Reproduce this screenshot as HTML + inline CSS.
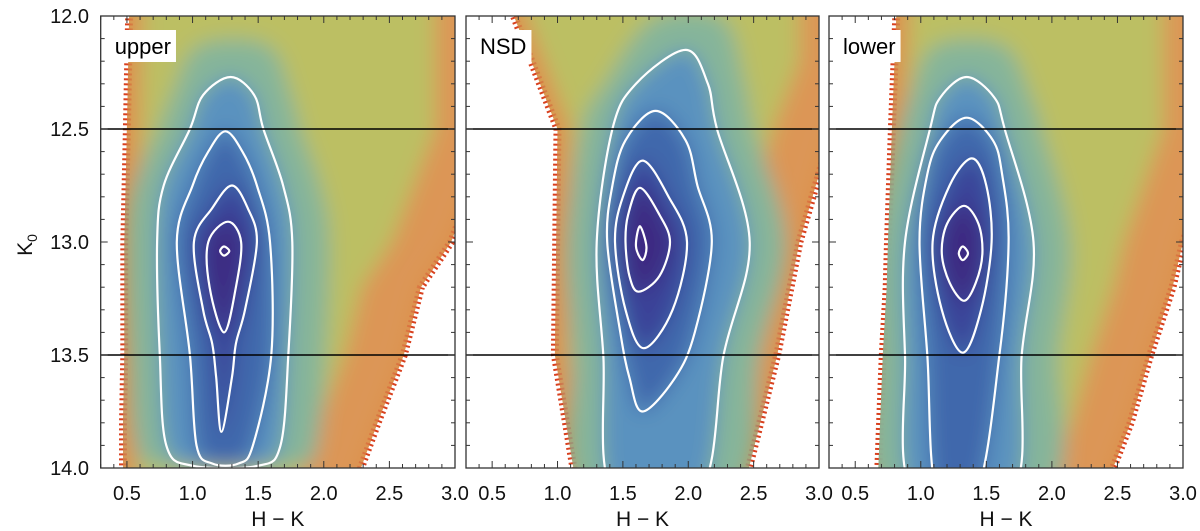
<!DOCTYPE html>
<html><head><meta charset="utf-8">
<style>
body{margin:0;background:#fff;}
svg{display:block;font-family:"Liberation Sans",sans-serif;}
</style></head>
<body>
<svg id="chart" width="1200" height="531" viewBox="0 0 1200 531" xmlns="http://www.w3.org/2000/svg">
<defs>
<filter id="blur" x="-20%" y="-20%" width="140%" height="140%"><feGaussianBlur stdDeviation="10"/></filter>
</defs>
</svg>
<script>
// ---- data ----
const panelNames = ["upper","NSD","lower"];
const xTicks = [0.5,1.0,1.5,2.0,2.5,3.0];
const yTicks = [12.0,12.5,13.0,13.5,14.0];
const refLines = [12.5,13.5];
// data envelope rows: [K, leftHK, rightHK]
const envUpper = [[11.9,0.52,3.3],[12.5,0.5,3.3],[13.0,0.48,2.97],[13.2,0.48,2.74],[13.5,0.48,2.61],[13.8,0.47,2.41],[14.1,0.47,2.22]];
const envNSD   = [[11.9,0.6,3.3],[12.2,0.8,3.3],[12.5,1.0,3.1],[13.0,0.99,2.85],[13.5,0.98,2.68],[14.1,1.15,2.42]];
const envLower = [[11.9,0.82,3.3],[12.5,0.78,3.3],[13.0,0.75,3.0],[13.2,0.74,2.92],[13.5,0.71,2.75],[13.8,0.69,2.6],[14.1,0.67,2.4]];
// contours (outer to inner)
const conUpper = [
 [[12.27,1.29,1.29],[12.35,1.08,1.47],[12.5,0.98,1.54],[12.75,0.78,1.69],[13.0,0.73,1.76],[13.5,0.75,1.73],[13.9,0.8,1.67],[13.99,1.0,1.5]],
 [[12.51,1.25,1.25],[12.6,1.12,1.38],[12.75,1.0,1.49],[13.0,0.88,1.59],[13.5,0.98,1.6],[13.9,1.03,1.46],[13.98,1.15,1.35]],
 [[12.75,1.3,1.3],[12.85,1.15,1.42],[13.0,1.01,1.49],[13.3,1.08,1.4],[13.45,1.15,1.33],[13.6,1.18,1.3],[13.84,1.22,1.22]],
 [[12.91,1.27,1.27],[13.0,1.12,1.37],[13.2,1.13,1.33],[13.4,1.24,1.24]],
 [[13.02,1.24,1.24],[13.04,1.21,1.28],[13.06,1.24,1.24]]
];
const conNSD = [
 [[12.15,1.98,1.98],[12.3,1.6,2.15],[12.5,1.42,2.22],[13.0,1.3,2.47],[13.5,1.35,2.27],[14.1,1.42,2.09]],
 [[12.42,1.75,1.75],[12.55,1.52,1.98],[12.75,1.42,2.07],[13.0,1.38,2.18],[13.4,1.48,2.05],[13.6,1.55,1.9],[13.75,1.65,1.65]],
 [[12.64,1.65,1.65],[12.8,1.5,1.85],[13.0,1.44,1.99],[13.3,1.52,1.88],[13.47,1.66,1.66]],
 [[12.76,1.63,1.63],[12.88,1.54,1.78],[13.0,1.52,1.86],[13.15,1.55,1.78],[13.22,1.62,1.62]],
 [[12.93,1.63,1.63],[13.02,1.6,1.68],[13.08,1.65,1.65]]
];
const conLower = [
 [[12.27,1.35,1.35],[12.36,1.15,1.56],[12.5,1.07,1.64],[13.0,0.88,1.86],[13.5,0.88,1.77],[14.1,0.94,1.7]],
 [[12.45,1.35,1.35],[12.55,1.15,1.55],[12.7,1.05,1.62],[13.0,0.99,1.67],[13.5,1.05,1.6],[14.1,1.12,1.43]],
 [[12.63,1.39,1.39],[12.75,1.22,1.5],[13.0,1.09,1.54],[13.3,1.16,1.46],[13.49,1.32,1.32]],
 [[12.84,1.33,1.33],[12.92,1.2,1.44],[13.05,1.16,1.47],[13.18,1.22,1.42],[13.26,1.33,1.33]],
 [[13.02,1.32,1.32],[13.05,1.29,1.36],[13.08,1.32,1.32]]
];
const envelopes = [envUpper, envNSD, envLower];
const contours = [conUpper, conNSD, conLower];

// ---- layout ----
const panels = [{x0:100.7,x1:455},{x0:466,x1:819},{x0:829,x1:1183}];
const yTop = 16, yBot = 468, xMin = 0.3, xMax = 3.0, kMin = 12.0, kMax = 14.0;
const fills = ["#dc9656","#bcbf64","#86b59a","#5a92bf","#4068ac","#3a4398","#3e2a82"];
const NS = "http://www.w3.org/2000/svg";
const svg = document.getElementById("chart");
function mk(tag, attrs, parent){const e=document.createElementNS(NS,tag);for(const k in attrs)e.setAttribute(k,attrs[k]);(parent||svg).appendChild(e);return e;}
const yS = k => yTop + (k - kMin) / (kMax - kMin) * (yBot - yTop);
function ptsFrom(rows, xS){
  const pts=[];
  rows.forEach(r=>pts.push([xS(r[1]), yS(r[0])]));
  for(let i=rows.length-1;i>=0;i--){ if(rows[i][1]!==rows[i][2]) pts.push([xS(rows[i][2]), yS(rows[i][0])]); }
  return pts;
}
function smoothPath(pts){
  const n=pts.length; let d="M"+pts[0][0].toFixed(1)+","+pts[0][1].toFixed(1);
  for(let i=0;i<n;i++){
    const p0=pts[(i-1+n)%n],p1=pts[i],p2=pts[(i+1)%n],p3=pts[(i+2)%n];
    const c1=[p1[0]+(p2[0]-p0[0])/6,p1[1]+(p2[1]-p0[1])/6];
    const c2=[p2[0]-(p3[0]-p1[0])/6,p2[1]-(p3[1]-p1[1])/6];
    d+="C"+c1[0].toFixed(1)+","+c1[1].toFixed(1)+" "+c2[0].toFixed(1)+","+c2[1].toFixed(1)+" "+p2[0].toFixed(1)+","+p2[1].toFixed(1);
  }
  return d+"Z";
}
function polyPath(pts){return "M"+pts.map(p=>p[0].toFixed(1)+","+p[1].toFixed(1)).join("L")+"Z";}
function insetRows(env, dl, dr){ return env.map(r=>[r[0], r[1]+dl, r[2]-dr]); }

panels.forEach((p,pi)=>{
  const xS = v => p.x0 + (v - xMin)/(xMax - xMin)*(p.x1 - p.x0);
  const g = mk("g",{});
  
  
  const cp = mk("clipPath",{id:"clip"+pi}, svg.querySelector("defs"));
  mk("rect",{x:p.x0,y:yTop,width:p.x1-p.x0,height:yBot-yTop}, cp);
  const envD = polyPath(ptsFrom(envelopes[pi], xS));
  const cpe = mk("clipPath",{id:"clipe"+pi}, svg.querySelector("defs"));
  mk("path",{d:envD}, cpe);
  const outer = mk("g",{"clip-path":"url(#clip"+pi+")"}, g);
  const edge = mk("path",{d:envD,fill:"#dc8f46",stroke:"#d8401e","stroke-width":8,"stroke-dasharray":"2 3"}, outer);
  
  
  const inner = mk("g",{"clip-path":"url(#clipe"+pi+")"}, outer);
  const blurG = mk("g",{filter:"url(#blur)"}, inner);
  mk("path",{d:envD,fill:fills[0]}, blurG);
  mk("path",{d:polyPath(ptsFrom(insetRows(envelopes[pi],0.1,0.45), xS)),fill:fills[1]}, blurG);
  mk("path",{d:smoothPath(ptsFrom(contours[pi][0].map(r=>[r[0]-0.14*(r===contours[pi][0][0]?1:0), r[1]-0.24, r[2]+0.28]), xS)),fill:fills[2]}, blurG);
  contours[pi].forEach((c,ci)=>{
    const d = mk("path",{d:smoothPath(ptsFrom(c, xS)),fill:fills[3+Math.min(ci,3)]}, blurG);
    
    
  });
  contours[pi].forEach((c,ci)=>{
    const l = mk("path",{d:smoothPath(ptsFrom(c, xS)),fill:"none",stroke:"#fff","stroke-width":2.2,"stroke-linejoin":"round"}, outer);
    
    
  });
  refLines.forEach(k=>{
    const l = mk("line",{x1:p.x0,x2:p.x1,y1:yS(k),y2:yS(k),stroke:"#000","stroke-width":1.6}, g);
    
    
  });
  for(let i=3;i<=30;i++){
    const X=xS(i/10), L = i%5===0?7:4;
    mk("line",{x1:X,x2:X,y1:yBot,y2:yBot-L,stroke:"#333","stroke-width":1}, g);
    mk("line",{x1:X,x2:X,y1:yTop,y2:yTop+L,stroke:"#333","stroke-width":1}, g);
  }
  for(let i=120;i<=140;i++){
    const L=i%5===0?7:4, Y=yS(i/10);
    mk("line",{x1:p.x0,x2:p.x0+L,y1:Y,y2:Y,stroke:"#333","stroke-width":1}, g);
    mk("line",{x1:p.x1,x2:p.x1-L,y1:Y,y2:Y,stroke:"#333","stroke-width":1}, g);
  }
  const fr = mk("rect",{x:p.x0,y:yTop,width:p.x1-p.x0,height:yBot-yTop,fill:"none",stroke:"#333","stroke-width":1.3}, g);
  
  
  xTicks.forEach(v=>{
    const t = mk("text",{x:xS(v),y:500,"text-anchor":"middle","font-size":20,fill:"#111"}, g);
    t.textContent = v.toFixed(1);
    
    
  });
  const xt = mk("text",{x:(p.x0+p.x1)/2,y:526,"text-anchor":"middle","font-size":21,fill:"#111"}, g);
  xt.textContent = "H \u2212 K";
  
  
  const lb = mk("rect",{x:p.x0+10,y:yTop+14,width:60,height:32,fill:"#fff"}, g);
  
  
  const lt = mk("text",{x:p.x0+14,y:yTop+38,"font-size":22,fill:"#000"}, g);
  lt.textContent = panelNames[pi];
  
  
  lb.setAttribute("width", lt.getComputedTextLength()+9);
});
yTicks.forEach(k=>{
  const t = mk("text",{x:89,y:yS(k)+7,"text-anchor":"end","font-size":20,fill:"#111"});
  t.textContent = k.toFixed(1);
  
  
});
const yt = mk("text",{x:0,y:0,"font-size":21,fill:"#111",transform:"translate(32,245) rotate(-90)","text-anchor":"middle"});
yt.innerHTML = 'K<tspan font-size="14" dy="5">0</tspan>';


</script>
</body></html>
